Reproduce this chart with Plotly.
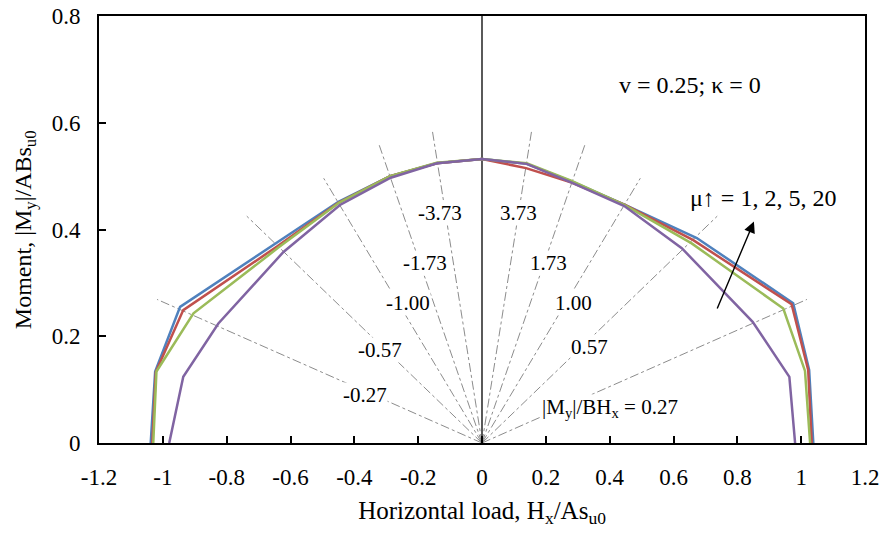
import plotly.graph_objects as go

# ---- data ----
blue_x = [-1.038, -1.024, -0.946, -0.647, -0.450, -0.288, -0.142, 0.0, 0.140, 0.281, 0.448, 0.673, 0.975, 1.025, 1.038]
blue_y = [0.0, 0.134, 0.255, 0.374, 0.452, 0.500, 0.524, 0.532, 0.523, 0.490, 0.446, 0.384, 0.262, 0.137, 0.0]

red_x = [-1.033, -1.022, -0.936, -0.640, -0.450, -0.288, -0.142, 0.0, 0.138, 0.281, 0.448, 0.662, 0.970, 1.022, 1.033]
red_y = [0.0, 0.133, 0.249, 0.369, 0.450, 0.500, 0.524, 0.532, 0.515, 0.488, 0.446, 0.380, 0.260, 0.137, 0.0]

green_x = [-1.030, -1.020, -0.904, -0.636, -0.448, -0.288, -0.142, 0.0, 0.140, 0.281, 0.446, 0.657, 0.944, 1.012, 1.028]
green_y = [0.0, 0.134, 0.243, 0.367, 0.450, 0.500, 0.525, 0.532, 0.524, 0.491, 0.446, 0.374, 0.252, 0.135, 0.0]

purple_x = [-0.980, -0.936, -0.826, -0.622, -0.445, -0.286, -0.141, 0.0, 0.140, 0.281, 0.446, 0.626, 0.848, 0.963, 0.981]
purple_y = [0.0, 0.124, 0.224, 0.358, 0.446, 0.497, 0.524, 0.532, 0.523, 0.488, 0.444, 0.365, 0.227, 0.124, 0.0]

# radial reference lines |My|/BHx (end points)
ray_x_end = [-1.018, -0.737, -0.496, -0.322, -0.155, 0.155, 0.322, 0.496, 0.737, 1.018]
ray_y_end = [0.269, 0.425, 0.496, 0.558, 0.583, 0.583, 0.558, 0.496, 0.425, 0.269]

ray_labels = ["-0.27", "-0.57", "-1.00", "-1.73", "-3.73", "3.73", "1.73", "1.00", "0.57",
              "|M<sub>y</sub>|/BH<sub>x</sub> = 0.27"]
ray_label_x = [-0.367, -0.320, -0.232, -0.179, -0.132, 0.113, 0.207, 0.288, 0.338, 0.400]
ray_label_y = [0.090, 0.174, 0.262, 0.337, 0.431, 0.431, 0.337, 0.262, 0.180, 0.066]

x_ticks = [-1.2, -1.0, -0.8, -0.6, -0.4, -0.2, 0.0, 0.2, 0.4, 0.6, 0.8, 1.0, 1.2]
x_tick_text = ["-1.2", "-1", "-0.8", "-0.6", "-0.4", "-0.2", "0", "0.2", "0.4", "0.6", "0.8", "1", "1.2"]
y_ticks = [0.0, 0.2, 0.4, 0.6, 0.8]
y_tick_text = ["0", "0.2", "0.4", "0.6", "0.8"]

FONT = "Liberation Serif, Times New Roman, serif"

fig = go.Figure()

# radial dash-dot lines
for xe, ye in zip(ray_x_end, ray_y_end):
    fig.add_trace(go.Scatter(x=[0, xe], y=[0, ye], mode="lines",
                             line=dict(color="#8c8c8c", width=1, dash="dashdot"),
                             hoverinfo="skip", showlegend=False))

# vertical axis line at x = 0
fig.add_trace(go.Scatter(x=[0, 0], y=[0, 0.8], mode="lines",
                         line=dict(color="black", width=1.3),
                         hoverinfo="skip", showlegend=False))

series = [(blue_x, blue_y, "#4F81BD"), (red_x, red_y, "#C0504D"),
          (green_x, green_y, "#9BBB59"), (purple_x, purple_y, "#8064A2")]
for sx, sy, c in series:
    fig.add_trace(go.Scatter(x=sx, y=sy, mode="lines",
                             line=dict(color=c, width=2.5), showlegend=False))

for t, lx, ly in zip(ray_labels, ray_label_x, ray_label_y):
    fig.add_annotation(x=lx, y=ly, text=t, showarrow=False,
                       font=dict(family=FONT, size=21, color="black"),
                       bgcolor="white", borderpad=0)

fig.add_annotation(x=0.652, y=0.671, text="v = 0.25; κ = 0", showarrow=False,
                   font=dict(family=FONT, size=24, color="black"))
fig.add_annotation(x=0.88, y=0.459, text="μ↑ = 1, 2, 5, 20", showarrow=False,
                   font=dict(family=FONT, size=24, color="black"))
fig.add_annotation(x=0.852, y=0.415, ax=0.735, ay=0.249, axref="x", ayref="y",
                   xref="x", yref="y", text="", showarrow=True,
                   arrowhead=2, arrowsize=1.6, arrowwidth=1.4, arrowcolor="black")

# y-axis title placed as a rotated annotation (closer to the edge, like the reference)
fig.add_annotation(xref="paper", yref="paper", x=-0.097, y=0.5,
                   text="Moment, |M<sub>y</sub>|/ABs<sub>u0</sub>", textangle=-90,
                   showarrow=False, xanchor="center", yanchor="middle",
                   font=dict(family=FONT, size=24, color="black"))

fig.update_layout(
    width=883, height=535,
    margin=dict(l=99, r=18, t=16, b=92),
    plot_bgcolor="white", paper_bgcolor="white",
    font=dict(family=FONT, size=23, color="black"),
    showlegend=False,
)
fig.update_xaxes(range=[-1.2, 1.2], tickvals=x_ticks, ticktext=x_tick_text,
                 showgrid=False, zeroline=False, showline=True, linecolor="black",
                 linewidth=2, mirror=True, ticks="inside", ticklen=7, tickwidth=1.5,
                 tickcolor="black", ticklabelstandoff=12, automargin=False,
                 tickfont=dict(family=FONT, size=23),
                 title=dict(text="Horizontal load, H<sub>x</sub>/As<sub>u0</sub>",
                            font=dict(family=FONT, size=25), standoff=13))
fig.update_yaxes(range=[0, 0.8], tickvals=y_ticks, ticktext=y_tick_text,
                 showgrid=False, zeroline=False, showline=True, linecolor="black",
                 linewidth=2, mirror=True, ticks="inside", ticklen=7, tickwidth=1.5,
                 tickcolor="black", ticklabelstandoff=12, automargin=False,
                 tickfont=dict(family=FONT, size=23))

fig.write_html("out.html", config={"displayModeBar": False},
               post_script="document.body.style.margin='0';")
